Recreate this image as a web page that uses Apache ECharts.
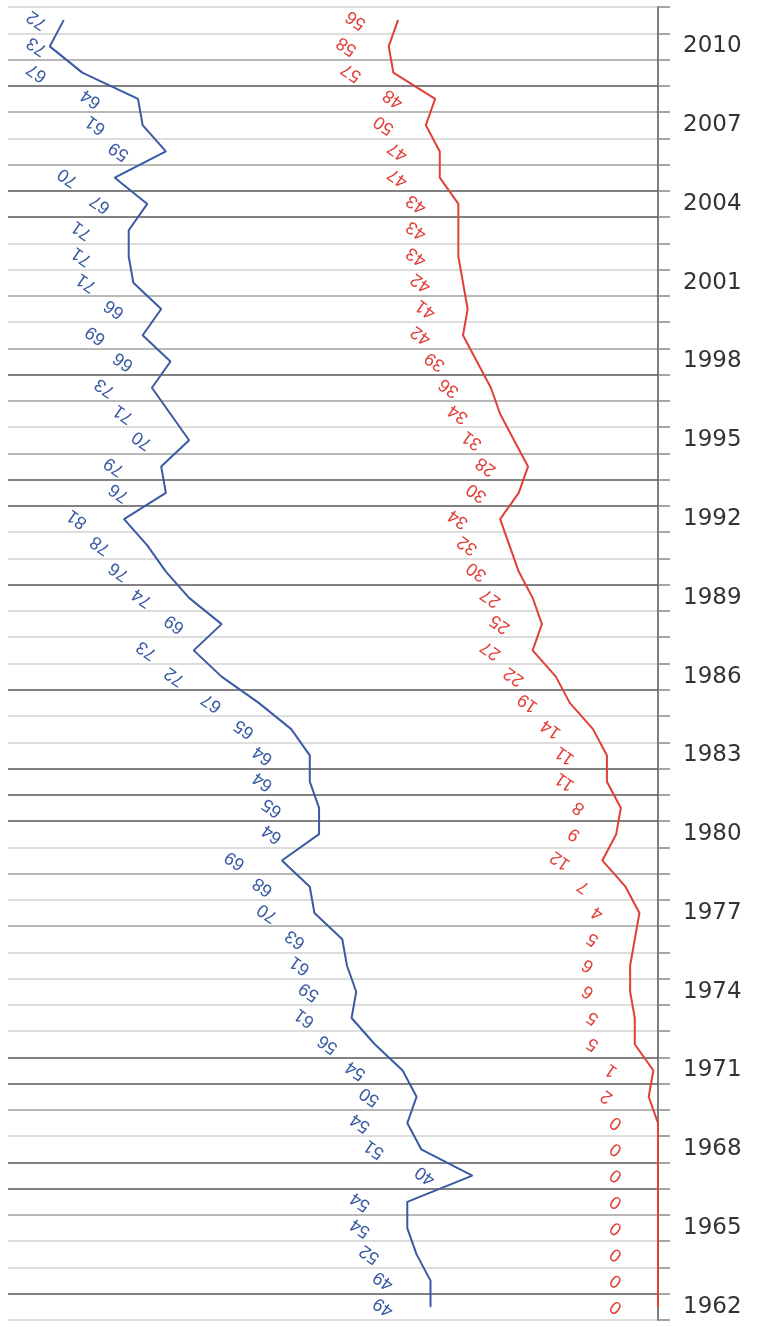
<!DOCTYPE html>
<html>
<head>
<meta charset="utf-8">
<script src="https://cdn.jsdelivr.net/npm/echarts@6/dist/echarts.min.js"></script>
<style>
  html, body { margin: 0; padding: 0; background: #fff; }
  #chart { width: 763px; height: 1327px; }
</style>
</head>
<body>
<div id="chart"></div>
<script>
// years, bottom (1962) to top (2011)
var years = [];
for (var y = 1962; y <= 2011; y++) years.push(String(y));

// red series (drawn first, bottom of the stack)
var redValues = [0, 0, 0, 0, 0, 0, 0, 0, 2, 1,
                 5, 5, 6, 6, 5, 4, 7, 12, 9, 8,
                 11, 11, 14, 19, 22, 27, 25, 27, 30, 32,
                 34, 30, 28, 31, 34, 36, 39, 42, 41, 42,
                 43, 43, 43, 47, 47, 50, 48, 57, 58, 56];

// blue series (stacked on top of red)
var blueValues = [49, 49, 52, 54, 54, 40, 51, 54, 50, 54,
                  56, 61, 59, 61, 63, 70, 68, 69, 64, 65,
                  64, 64, 65, 67, 72, 73, 69, 74, 76, 78,
                  81, 76, 79, 70, 71, 73, 66, 69, 66, 71,
                  71, 71, 67, 70, 59, 61, 64, 67, 73, 72];

// gridline shades, top line first (L light, M mid, D dark)
var gridShades = 'LLMDMLMDDLLMLMDMLMDDLLDLLLDLLDDDLMLMLLLLDDMLDDMLLDL'.split('');

var shadeColor = { L: '#d2d2d2', M: '#a0a0a0', D: '#585858' };
var splitColors = gridShades.map(function (s) { return shadeColor[s]; }).reverse();

var labelRotate = 145;

// offset is applied before rotation, so turn it back to get a plain leftward shift
function leftShift(dist) {
    var rad = labelRotate * Math.PI / 180;
    return [-dist * Math.cos(rad), -dist * Math.sin(rad)];
}

function seriesLabel(color, dist) {
    return {
        show: true,
        position: 'inside',
        rotate: labelRotate,
        offset: leftShift(dist),
        color: color,
        opacity: 1,
        fontFamily: 'Liberation Sans, Arial, sans-serif',
        fontSize: 18
    };
}

var chart = echarts.init(document.getElementById('chart'));
chart.setOption({
    animation: false,
    grid: { left: 8, right: 105, top: 7, bottom: 7 },
    xAxis: {
        type: 'value',
        inverse: true,
        min: 0,
        max: 140,
        show: false
    },
    yAxis: {
        type: 'category',
        position: 'right',
        data: years,
        boundaryGap: true,
        axisLine: { show: true, lineStyle: { color: '#555', width: 1.5 } },
        axisTick: { show: true, interval: 0, length: 12, lineStyle: { color: '#888', width: 1.5 } },
        axisLabel: {
            interval: 2,
            margin: 25,
            color: '#333',
            fontFamily: 'DejaVu Sans, sans-serif',
            fontSize: 23
        },
        splitLine: {
            show: true,
            interval: 0,
            lineStyle: { color: splitColors, width: 1.5 }
        }
    },
    series: [
        {
            name: 'red',
            type: 'line',
            stack: 'total',
            data: redValues,
            symbol: 'circle',
            symbolSize: 1,
            itemStyle: { color: '#e0403a' },
            lineStyle: { color: '#e0403a', width: 2 },
            label: seriesLabel('#e0403a', 42),
            z: 3
        },
        {
            name: 'blue',
            type: 'line',
            stack: 'total',
            data: blueValues,
            symbol: 'circle',
            symbolSize: 1,
            itemStyle: { color: '#3a5aa3' },
            lineStyle: { color: '#3a5aa3', width: 2 },
            label: seriesLabel('#3a5aa3', 47),
            z: 3
        }
    ]
});

// blue labels near the left edge get pulled in so they stay inside the plot
var blueData = blueValues.map(function (v, i) {
    var px = chart.convertToPixel({ gridIndex: 0 }, [v + redValues[i], i])[0];
    var dist = Math.min(47, px - 37);
    if (dist >= 47) return v;
    return { value: v, label: { offset: leftShift(dist) } };
});
chart.setOption({ series: [{}, { data: blueData }] });
</script>
</body>
</html>
